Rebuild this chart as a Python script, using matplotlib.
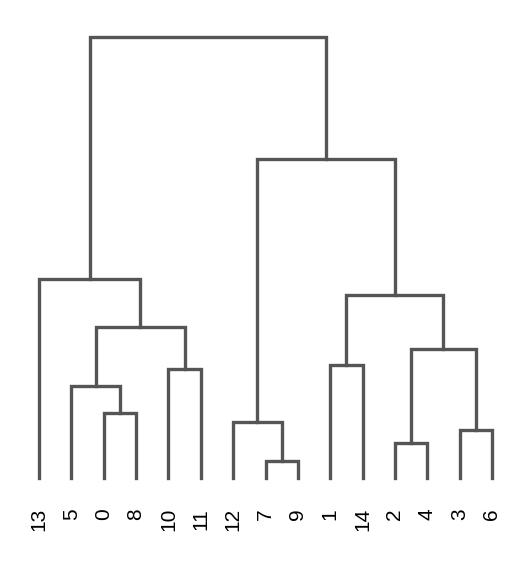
import matplotlib.pyplot as plt

# leaf labels in display order
leaves = ["13", "5", "0", "8", "10", "11", "12", "7", "9", "1", "14", "2", "4", "3", "6"]

# merges: (child a, child b, height); ids < 15 are leaf positions, then 15, 16, ... for merges
merge_a = [2, 1, 4, 16, 0, 7, 6, 9, 11, 13, 23, 22, 21, 19]
merge_b = [3, 15, 5, 17, 18, 8, 20, 10, 12, 14, 24, 25, 26, 27]
heights = [65, 92, 109, 151, 199, 17, 56, 113, 35, 48, 129, 183, 319, 441]

fig = plt.figure(figsize=(5.31, 5.62), dpi=100)
ax = fig.add_axes([39 / 531, 84 / 562, 453 / 531, 441 / 562])
ax.set_xlim(0, 14)
ax.set_ylim(0, 441)
ax.axis("off")

xs = {i: float(i) for i in range(len(leaves))}
ys = {i: 0.0 for i in range(len(leaves))}
col = "#555555"
for k, (a, b, h) in enumerate(zip(merge_a, merge_b, heights)):
    ax.plot([xs[a], xs[a], xs[b], xs[b]], [ys[a], h, h, ys[b]],
            color=col, lw=2.4, clip_on=False, solid_joinstyle="miter")
    nid = len(leaves) + k
    xs[nid] = (xs[a] + xs[b]) / 2
    ys[nid] = h

for i, lab in enumerate(leaves):
    ax.text(i, -30, lab, rotation=90, ha="center", va="top", fontsize=15,
            family="Liberation Sans", color="black")

fig.savefig("out.png", dpi=100)
